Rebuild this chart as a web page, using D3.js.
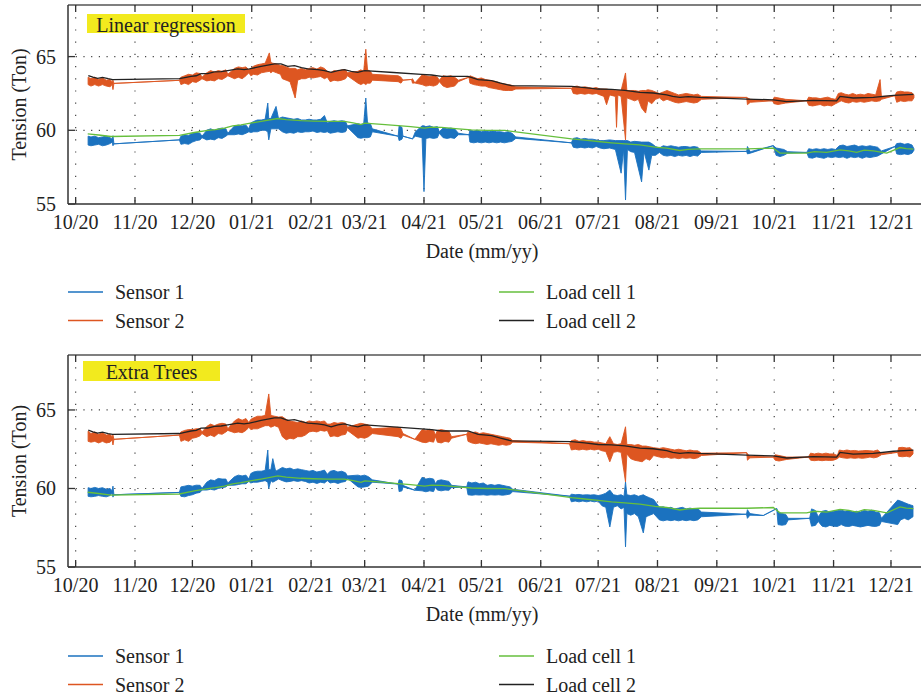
<!DOCTYPE html>
<html>
<head>
<meta charset="utf-8">
<script src="https://cdn.jsdelivr.net/npm/d3@7"></script>
<style>
  body { margin: 0; background: #fff; }
  text { font-family: "Liberation Serif", "DejaVu Serif", serif; fill: #222; }
</style>
</head>
<body>
<div id="graf"></div>
<script>
// days counted from 2020-10-01
const t0 = Date.UTC(2020, 9, 1)
const yTicks = [55, 60, 65]
const seriesNames = ["Sensor 1", "Sensor 2", "Load cell 1", "Load cell 2"]
const panelTitles = ["Linear regression", "Extra Trees"]

// load cells (reference), [day, tension]
const loadCell1 = [[6.3,59.76],[12,59.68],[18.5,59.58],[54.2,59.65],[62,59.85],[69,59.99],[73,60.05],[77.7,60.15],[82,60.3],[86.4,60.37],[92,60.5],[96.9,60.6],[105.6,60.8],[110,60.72],[117.8,60.65],[124,60.62],[131.7,60.6],[140.4,60.6],[145,60.5],[149.1,60.39],[151,60.49],[160,60.4],[168.5,60.31],[175,60.25],[182.4,60.15],[186,60.22],[191.2,60.2],[200,60.1],[206.8,60.03],[215,60.0],[224.3,59.99],[259.1,59.42],[266,59.33],[273,59.24],[280,59.15],[287,59.08],[294.8,59.01],[302.7,58.86],[308.8,58.79],[315.7,58.63],[320,58.7],[326.2,58.74],[350.6,58.74],[364.5,58.79],[368,58.45],[381.9,58.45],[386,58.55],[392.4,58.5],[399.4,58.67],[404,58.6],[408.1,58.5],[412,58.65],[416.8,58.6],[423.8,58.45],[430.7,58.83],[434,58.75],[437.7,58.72]]
const loadCell2 = [[6.6,63.71],[9,63.6],[11.5,63.52],[14,63.59],[17,63.5],[19.3,63.44],[54.2,63.5],[57,63.58],[60.3,63.66],[63,63.7],[65.5,63.84],[69,63.85],[72.5,63.96],[76,63.98],[79.5,64.05],[84.7,64.16],[88,64.12],[90.8,64.16],[96.9,64.34],[103.9,64.5],[107.3,64.5],[110.8,64.34],[114.3,64.39],[118,64.25],[121.3,64.16],[126.5,64.11],[130,64.05],[133.5,63.93],[137,64.05],[140.4,64.11],[144,64.0],[147.4,63.93],[151,64.05],[166,63.92],[180.7,63.8],[186,63.75],[191.2,63.66],[205,63.66],[210.3,63.44],[217.3,63.37],[222,63.2],[227.7,63.03],[259.1,62.98],[266,62.9],[273,62.8],[280,62.78],[287,62.71],[294.8,62.57],[301.8,62.53],[308.8,62.41],[312,62.3],[315.7,62.23],[320,62.28],[326.2,62.23],[350.6,62.12],[364.5,62.07],[371.5,61.94],[385.4,62.03],[397.6,62.0],[399.4,62.3],[406.3,62.19],[416.8,62.23],[427.3,62.37],[437.7,62.44]]

// sensors, [day, low, high] of the readings
const sensor1Lr = [[6.5,59.0,59.6],[8,58.95,59.55],[10,59.0,59.6],[12,59.05,59.5],[14,58.95,59.55],[16,59.0,59.6],[18,59.1,59.5],[19,59.2,59.4],[19.5,58.95,59.63],[20,59.08,59.08],[54.2,59.35,59.35],[55,59.05,59.6],[57,59.1,59.7],[59,59.05,59.65],[61,59.2,59.8],[63,59.3,59.85],[65,59.35,59.8],[66,59.5,59.6],[68.5,59.35,60.0],[70.5,59.4,60.1],[72.5,59.35,60.0],[74.5,59.5,60.1],[76.5,59.45,60.15],[78.5,59.6,60.1],[79.5,59.7,59.8],[83,59.7,60.3],[85,59.75,60.35],[87,59.7,60.3],[89,59.8,60.35],[90.5,59.9,60.1],[91.5,59.85,60.5],[93,59.9,60.6],[95,59.9,60.7],[97,60.0,60.7],[99,60.0,60.75],[100.4,59.9,61.85],[100.9,59.35,60.8],[102,60.1,60.8],[104.7,60.1,61.62],[106,60.1,60.8],[108,59.9,60.9],[110,59.8,60.85],[112,59.85,60.8],[114,59.8,60.75],[116,59.9,60.8],[118,59.85,60.7],[120,59.9,60.7],[122,59.9,60.75],[124,59.95,60.7],[126,59.85,60.7],[128,59.9,60.75],[130,59.85,61.0],[131.5,59.9,60.5],[133,59.8,60.6],[135,59.85,60.65],[137,59.9,60.6],[139,59.85,60.65],[141,59.9,60.6],[142,60.2,60.3],[147.5,59.5,60.45],[149,59.46,60.4],[150.5,59.5,60.45],[151.6,59.5,62.19],[152.5,59.5,60.5],[154,59.55,60.45],[155,59.9,60.1],[168.5,59.6,59.6],[169,59.3,60.3],[170.5,59.4,60.2],[171,59.6,59.6],[176,59.42,59.42],[177.5,59.6,59.9],[181,59.5,60.3],[182,55.84,60.3],[183,59.45,60.25],[185,59.5,60.3],[187,59.45,60.2],[189,59.5,60.25],[190,59.8,59.9],[192,59.5,60.15],[194,59.45,60.1],[196,59.5,60.15],[198,59.45,60.1],[200,59.7,59.8],[205.5,59.7,59.7],[206,59.2,60.0],[208,59.15,59.95],[210,59.2,60.0],[212,59.15,59.9],[214,59.2,59.95],[216,59.15,59.9],[218,59.2,59.95],[220,59.15,59.9],[222,59.2,59.9],[224,59.15,59.85],[226,59.2,59.9],[228,59.25,59.8],[230,59.45,59.55],[259,59.15,59.15],[260,58.85,59.45],[262,58.8,59.5],[264,58.85,59.4],[266,58.8,59.45],[268,58.85,59.4],[270,58.8,59.4],[272,58.9,59.35],[274,58.8,59.3],[276,58.75,59.3],[279,58.8,59.35],[282,58.7,59.3],[285,57.09,59.3],[286.3,58.7,59.3],[287.3,55.27,59.3],[288.3,58.7,59.3],[290,58.55,59.2],[292,58.5,59.25],[295.7,56.5,59.2],[297,58.55,59.2],[299.5,57.3,59.2],[301,58.3,59.1],[303,58.3,58.9],[305,58.5,58.8],[307,58.3,58.95],[309,58.25,58.9],[311,58.3,58.95],[313,58.22,58.9],[315,58.3,58.85],[317,58.25,58.9],[319,58.3,58.9],[321,58.22,58.85],[323,58.3,58.9],[325,58.25,58.85],[327,58.5,58.6],[350.6,58.57,58.57],[351,58.4,58.9],[352.5,58.45,58.55],[364.5,58.96,58.96],[366,58.3,58.8],[368,58.22,58.75],[370,58.3,58.7],[372,58.45,58.55],[382,58.5,58.5],[383,58.15,58.75],[385,58.11,58.7],[387,58.2,58.75],[389,58.15,58.7],[391,58.1,58.75],[393,58.2,58.7],[395,58.15,58.75],[397,58.2,58.7],[399,58.15,58.95],[401,58.2,59.0],[403,58.1,58.9],[405,58.2,58.95],[407,58.15,59.0],[409,58.2,58.9],[411,58.1,58.95],[413,58.2,58.9],[415,58.15,58.95],[417,58.2,58.9],[419,58.25,58.85],[421,58.4,58.6],[428,58.9,58.9],[429,58.4,59.1],[431,58.35,59.13],[433,58.4,59.05],[435,58.35,59.1],[437,58.45,59.0],[438,58.65,58.75]]

const sensor2Lr = [[6.5,63.1,63.6],[8,63.0,63.5],[10,63.1,63.6],[12,63.0,63.45],[14,63.1,63.55],[16,63.0,63.4],[18,62.95,63.45],[19,63.1,63.3],[19.5,62.76,63.4],[20,63.18,63.18],[54.2,63.39,63.39],[55,63.1,63.6],[57,63.2,63.7],[59,63.1,63.8],[61,63.3,63.75],[63,63.25,63.9],[65,63.4,63.85],[66,63.5,63.6],[68.5,63.35,63.9],[70.5,63.4,64.05],[72.5,63.35,63.95],[74.5,63.5,64.05],[76.5,63.45,64.0],[78.5,63.6,64.1],[79.5,63.7,63.8],[83,63.5,64.2],[85,63.6,64.3],[87,63.5,64.25],[89,63.7,64.3],[90.5,63.9,64.1],[91.5,63.7,64.2],[93,63.8,64.35],[95,63.75,64.45],[97,63.9,64.5],[99,63.95,64.55],[101.2,64.0,65.25],[102,63.9,64.6],[103,64.0,64.55],[105,63.9,64.5],[107,63.8,64.4],[108,63.5,64.4],[110,63.4,64.3],[112,63.3,64.2],[114.7,62.19,64.2],[116,63.4,64.1],[118,63.5,64.2],[120,63.5,64.1],[122,63.6,64.2],[124,63.55,64.25],[126,63.6,64.15],[128,63.65,64.3],[130,63.5,64.2],[131.5,63.6,64.0],[133,63.3,63.9],[135,63.4,64.05],[137,63.35,64.0],[139,63.4,64.1],[141,63.5,64.1],[142,63.7,63.9],[147.5,63.2,64.0],[149,63.1,64.1],[150.5,63.2,64.0],[151.6,63.1,65.5],[152.5,63.2,64.1],[154,63.2,64.0],[155,63.4,63.8],[168.5,63.3,63.7],[170,63.2,63.6],[171,63.4,63.4],[175.5,63.45,63.45],[176,63.2,63.5],[177.2,63.21,63.21],[181,63.1,63.75],[183,63.0,63.7],[185,63.05,63.65],[187,63.0,63.7],[189,63.1,63.6],[190,63.3,63.4],[192,63.0,63.7],[194,62.9,63.65],[196,62.95,63.7],[198,63.0,63.6],[200,63.3,63.4],[205.5,63.6,63.6],[206,63.2,63.7],[208,63.1,63.6],[210,63.05,63.5],[212,63.0,63.55],[214,63.0,63.45],[216,62.9,63.4],[218,62.85,63.35],[220,62.8,63.3],[222,62.75,63.2],[224,62.7,63.15],[226,62.7,63.1],[228,62.7,63.05],[230,62.8,62.95],[259,62.85,62.85],[260,62.5,62.95],[262,62.45,63.0],[264,62.5,62.9],[266,62.45,62.95],[268,62.5,62.9],[270,62.45,62.85],[272,62.5,62.9],[274,62.4,62.8],[276,62.3,62.8],[277.4,61.74,62.8],[279,62.4,62.75],[282,62.3,62.7],[282.6,60.2,62.7],[283.3,62.4,62.7],[285,62.3,62.7],[287.3,59.35,63.89],[288,62.2,62.7],[290,62.1,62.7],[292,62.0,62.7],[294,62.1,62.65],[295.7,61.51,62.7],[297.8,61.17,62.7],[299,62.0,62.75],[301,61.8,62.7],[303,62.1,62.6],[305,62.2,62.5],[307,62.0,62.6],[309,62.1,62.7],[311,62.0,62.6],[313,61.9,62.5],[315,61.85,62.4],[317,61.9,62.45],[319,61.95,62.5],[321,61.9,62.45],[323,61.85,62.4],[325,61.9,62.45],[327,62.1,62.3],[350.6,62.23,62.23],[351,61.74,62.2],[352.5,61.9,62.1],[364,62.0,62.0],[365,61.8,62.25],[367,61.75,62.2],[369,61.8,62.15],[371,61.85,62.1],[382,62.0,62.0],[383,61.7,62.25],[385,61.65,62.2],[387,61.7,62.2],[389,61.75,62.15],[391,61.65,62.2],[393,61.7,62.25],[395,61.65,62.15],[397,61.8,62.1],[398.5,61.9,62.5],[400,62.0,62.55],[402,61.9,62.45],[404,61.85,62.4],[406,61.95,62.5],[408,61.9,62.4],[410,61.95,62.45],[412,61.9,62.4],[414,61.95,62.5],[416,62.0,62.45],[418,61.95,62.4],[420.3,62.0,63.44],[421,62.1,62.3],[428,62.35,62.35],[429,61.9,62.6],[431,62.0,62.65],[433,61.95,62.6],[435,62.0,62.6],[437,62.0,62.55],[438,62.2,62.4]]

const sensor1Et = [[6.5,59.5,60.05],[8,59.47,60.0],[10,59.5,60.07],[12,59.55,60.0],[14,59.5,60.05],[16,59.47,59.95],[18,59.55,60.0],[19,59.7,59.85],[19.5,59.45,60.15],[20,59.6,59.6],[54.2,59.75,59.75],[55,59.5,60.1],[57,59.47,60.15],[59,59.55,60.2],[61,59.6,60.15],[63,59.7,60.21],[65,59.75,60.2],[66,59.9,60.0],[68.5,59.9,60.4],[70.5,59.95,60.55],[72.5,59.9,60.5],[74.5,60.0,60.64],[76.5,60.05,60.6],[78.5,60.1,60.6],[79.5,60.2,60.35],[83,60.21,60.75],[85,60.25,60.85],[87,60.3,60.8],[89,60.3,60.85],[90.5,60.45,60.6],[91.5,60.35,60.95],[93,60.4,61.05],[95,60.4,61.1],[97,60.45,61.1],[99,60.5,61.15],[100.4,60.4,62.45],[100.9,60.0,61.2],[102,60.5,61.2],[103,60.4,61.9],[104.5,60.5,61.1],[106,60.6,61.2],[108,60.5,61.34],[110,60.42,61.25],[112,60.45,61.3],[114,60.5,61.2],[116,60.45,61.25],[118,60.5,61.2],[120,60.45,61.15],[122,60.35,61.1],[124,60.4,61.15],[126,60.32,61.05],[128,60.4,61.1],[130,60.35,61.17],[131.5,60.5,60.9],[133,60.35,61.1],[135,60.4,61.15],[137,60.32,61.05],[139,60.4,61.1],[141,60.45,61.0],[142,60.65,60.8],[147.5,60.1,60.85],[149,60.07,60.8],[151,60.1,60.85],[153,60.15,60.75],[155,60.4,60.55],[168.5,60.28,60.28],[169,59.8,60.55],[170.5,59.85,60.5],[171,60.1,60.2],[177.2,59.89,59.89],[181,59.85,60.71],[183,59.79,60.6],[185,59.85,60.65],[187,59.8,60.6],[188,60.1,60.3],[189,59.9,60.5],[191,59.85,60.55],[193,59.9,60.5],[195,59.88,60.45],[196.4,60.05,60.2],[204.3,60.1,60.1],[205,59.6,60.42],[207,59.57,60.35],[209,59.6,60.4],[211,59.58,60.3],[213,59.6,60.35],[215,59.57,60.2],[217,59.6,60.25],[219,59.58,60.2],[221,59.6,60.25],[223,59.57,60.2],[225,59.6,60.15],[227,59.65,60.1],[228.4,59.8,59.95],[258,59.51,59.51],[259,59.15,59.64],[261,59.2,59.6],[263,59.15,59.62],[265,59.2,59.58],[267,59.15,59.6],[269,59.2,59.58],[271,59.15,59.6],[273,59.2,59.55],[275,58.9,59.6],[277,58.8,59.7],[279.1,57.55,59.9],[281,58.8,59.6],[283,58.9,59.55],[285,58.7,59.6],[286.5,58.8,59.5],[287.3,56.28,60.42],[288,58.4,59.6],[290,58.3,59.55],[292,58.4,59.6],[294,58.2,59.5],[296.6,57.17,59.6],[298,58.2,59.5],[300,58.3,59.4],[302,58.4,59.3],[305,58.0,58.8],[307,57.94,58.83],[309,58.0,58.75],[311,57.95,58.8],[313,58.0,58.7],[315,57.94,58.75],[317,58.0,58.8],[319,57.95,58.7],[321,58.0,58.75],[323,57.95,58.7],[325,58.0,58.72],[327,58.2,58.5],[350.5,58.36,58.36],[351,58.1,58.65],[352.3,58.3,58.4],[359.3,58.28,58.28],[366.3,58.72,58.72],[367,57.7,58.5],[369,57.66,58.4],[371,57.7,58.35],[372.3,58.0,58.1],[383.5,58.1,58.1],[384.5,57.6,58.7],[386.5,57.65,58.6],[388,57.9,58.2],[390,57.6,58.55],[392,57.55,58.6],[394,57.65,58.5],[396,57.6,58.55],[398,57.58,58.6],[400,57.7,58.62],[402,57.6,58.55],[404,57.58,58.6],[406,57.65,58.5],[408,57.6,58.55],[410,57.55,58.5],[412,57.6,58.6],[414,57.65,58.55],[416,57.6,58.62],[418,57.58,58.5],[420,57.65,58.45],[421,57.9,58.1],[429.5,57.7,59.26],[431,58.0,59.2],[433,58.1,59.1],[435,58.0,59.0],[437.5,58.2,58.9]]

const sensor2Et = [[6.5,63.0,63.65],[8,62.95,63.5],[10,63.0,63.6],[12,62.9,63.45],[14,63.0,63.55],[16,62.9,63.4],[18,62.95,63.45],[19,63.1,63.3],[19.5,62.77,63.4],[20,63.13,63.13],[54.2,63.4,63.4],[55,63.0,63.6],[57,63.1,63.7],[59,63.0,63.75],[61,63.2,63.75],[63,63.25,63.8],[65,63.35,63.8],[66,63.5,63.6],[68.5,63.3,63.95],[70.5,63.4,64.1],[72.5,63.3,64.0],[74.5,63.5,64.1],[76.5,63.45,64.15],[78.5,63.6,64.1],[79.5,63.7,63.8],[83,63.55,64.3],[85,63.6,64.45],[87,63.55,64.35],[89,63.7,64.45],[90.5,63.9,64.2],[91.5,63.75,64.4],[93,63.8,64.5],[95,63.8,64.6],[97,63.9,64.6],[99,64.0,64.65],[100.9,64.0,66.02],[102,63.9,64.65],[104,64.0,64.6],[106,63.9,64.55],[108,63.3,64.57],[110,63.1,64.4],[112,63.2,64.3],[114,63.15,64.25],[116,63.3,64.2],[118,63.3,64.3],[120,63.4,64.2],[122,63.6,64.3],[124,63.65,64.25],[126,63.6,64.3],[128,63.7,64.25],[130,63.65,64.3],[131.5,63.7,64.1],[133,63.3,64.1],[135,63.35,64.2],[137,63.3,64.15],[139,63.4,64.2],[141,63.45,64.15],[142,63.7,63.9],[147.5,63.2,64.1],[149,63.25,64.15],[151,63.2,64.1],[153,63.3,64.05],[155,63.5,63.8],[168.5,63.3,63.9],[170,63.2,63.8],[171,63.4,63.5],[177.2,63.13,63.13],[181,62.95,63.75],[183,62.92,63.7],[185,63.0,63.77],[187,62.95,63.7],[188,63.3,63.4],[189,62.95,63.7],[191,62.9,63.75],[193,63.0,63.7],[195,62.95,63.65],[196.4,63.2,63.3],[204.3,63.45,63.45],[205,63.0,63.6],[207,62.9,63.55],[209,62.85,63.6],[211,62.9,63.5],[213,62.85,63.55],[215,62.8,63.5],[217,62.85,63.45],[219,62.8,63.4],[221,62.75,63.35],[223,62.8,63.3],[225,62.75,63.25],[227,62.8,63.2],[228.4,62.95,63.05],[258,62.85,62.85],[259,62.45,63.05],[261,62.5,63.1],[263,62.45,63.0],[265,62.5,63.05],[267,62.45,63.0],[269,62.5,63.0],[271,62.45,62.95],[273,62.5,62.95],[275,62.4,62.9],[277,62.35,62.85],[279.1,61.7,63.3],[281,62.3,62.85],[283,62.35,62.8],[285,62.3,62.85],[287.3,60.42,63.93],[288,62.2,62.8],[290,61.9,62.8],[292,61.8,62.75],[294,61.75,62.8],[296,61.7,62.7],[298,61.9,62.7],[300,61.8,62.65],[302,62.1,62.6],[305,62.0,62.55],[307,61.95,62.6],[309,62.0,62.55],[311,61.92,62.5],[313,61.95,62.45],[315,61.9,62.5],[317,61.95,62.45],[319,61.92,62.4],[321,61.95,62.45],[323,61.9,62.4],[325,61.95,62.4],[327,62.1,62.25],[350.6,62.28,62.28],[351,61.8,62.2],[352.3,61.95,62.05],[364.4,62.0,62.0],[365.5,61.8,62.15],[367.5,61.75,62.1],[369.5,61.8,62.05],[371.5,61.85,62.0],[382.8,62.0,62.0],[384,61.8,62.25],[386,61.77,62.2],[388,61.8,62.25],[390,61.77,62.2],[392,61.8,62.25],[394,61.78,62.2],[396,61.8,62.2],[398,61.9,62.1],[399,62.0,62.45],[401,61.95,62.4],[403,61.92,62.45],[405,61.95,62.4],[407,61.92,62.42],[409,61.95,62.38],[411,61.92,62.4],[413,61.95,62.42],[415,62.0,62.4],[417,61.95,62.38],[419,62.0,62.45],[421,62.15,62.25],[429.5,62.3,62.3],[430,62.05,62.6],[432,62.02,62.62],[434,62.05,62.58],[436,62.0,62.6],[437.5,62.2,62.4]]

const colors = { s1: "#1b72bf", s2: "#dd5621", lc1: "#66bf3c", lc2: "#222222" }

const W = 921, H = 697
const svg = d3.select("#graf").append("svg").attr("width", W).attr("height", H)
svg.append("rect").attr("width", W).attr("height", H).attr("fill", "#fff")

const dayToDate = (d) => new Date(t0 + d * 864e5)

const x = d3.scaleUtc()
  .domain([new Date(Date.UTC(2020, 8, 27)), new Date(Date.UTC(2021, 11, 24))])
  .range([68, 935])
const months = d3.utcMonth.range(new Date(Date.UTC(2020, 9, 1)), new Date(Date.UTC(2021, 11, 2)))

const panels = [
  { title: panelTitles[0], top: 5, bottom: 204, s1: sensor1Lr, s2: sensor2Lr, box: [87, 14, 158, 19], legendY: 292 },
  { title: panelTitles[1], top: 355, bottom: 567, s1: sensor1Et, s2: sensor2Et, box: [83, 361, 137, 20], legendY: 656 },
]

panels.forEach((p) => {
  const y = d3.scaleLinear().domain([55, 68.5]).range([p.bottom, p.top])
  const g = svg.append("g")

  // grid
  g.selectAll(".vgrid").data(months).enter().append("line")
    .attr("x1", (d) => x(d)).attr("x2", (d) => x(d))
    .attr("y1", p.top).attr("y2", p.bottom)
    .attr("stroke", "#444").attr("stroke-width", 1.2)
    .attr("stroke-dasharray", "1.2,11")
  g.selectAll(".hgrid").data([60, 65]).enter().append("line")
    .attr("x1", 68).attr("x2", W)
    .attr("y1", (d) => y(d)).attr("y2", (d) => y(d))
    .attr("stroke", "#444").attr("stroke-width", 1.2)
    .attr("stroke-dasharray", "1.2,6.5")

  // sensors as bands of readings
  const band = d3.area()
    .x((d) => x(dayToDate(d[0])))
    .y0((d) => y(d[1]))
    .y1((d) => y(d[2]))
  const line = d3.line()
    .x((d) => x(dayToDate(d[0])))
    .y((d) => y(d[1]))

  ;[[p.s1, colors.s1], [p.s2, colors.s2]].forEach(([data, c]) => {
    g.append("path").datum(data).attr("d", band)
      .attr("fill", c).attr("stroke", c).attr("stroke-width", 0.9)
      .attr("stroke-linejoin", "round")
  })
  ;[[loadCell1, colors.lc1], [loadCell2, colors.lc2]].forEach(([data, c]) => {
    g.append("path").datum(data).attr("d", line)
      .attr("fill", "none").attr("stroke", c).attr("stroke-width", 1.3)
  })

  // frame
  g.append("line").attr("x1", 68).attr("x2", W).attr("y1", p.top).attr("y2", p.top)
    .attr("stroke", "#555").attr("stroke-width", 1.6)
  g.append("line").attr("x1", 68).attr("x2", W).attr("y1", p.bottom).attr("y2", p.bottom)
    .attr("stroke", "#333").attr("stroke-width", 1.5)
  g.append("line").attr("x1", 68).attr("x2", 68).attr("y1", p.top).attr("y2", p.bottom)
    .attr("stroke", "#333").attr("stroke-width", 1.5)

  // ticks (inward)
  months.forEach((m) => {
    g.append("line").attr("x1", x(m)).attr("x2", x(m))
      .attr("y1", p.bottom).attr("y2", p.bottom - 7).attr("stroke", "#333").attr("stroke-width", 1.3)
    g.append("line").attr("x1", x(m)).attr("x2", x(m))
      .attr("y1", p.top).attr("y2", p.top + 7).attr("stroke", "#333").attr("stroke-width", 1.3)
  })
  yTicks.forEach((v) => {
    g.append("line").attr("x1", 68).attr("x2", 75)
      .attr("y1", y(v)).attr("y2", y(v)).attr("stroke", "#333").attr("stroke-width", 1.3)
  })

  g.selectAll(".xlab").data(months).enter().append("text")
    .attr("x", (d) => x(d)).attr("y", p.bottom + 18)
    .attr("text-anchor", "middle").attr("dominant-baseline", "central")
    .attr("font-size", 20).text(d3.utcFormat("%m/%y"))
  g.selectAll(".ylab").data(yTicks).enter().append("text")
    .attr("x", 56).attr("y", (d) => y(d))
    .attr("text-anchor", "end").attr("dominant-baseline", "central")
    .attr("font-size", 20).text((d) => d)

  g.append("text")
    .attr("transform", `translate(19,${(p.top + p.bottom) / 2}) rotate(-90)`)
    .attr("text-anchor", "middle").attr("dominant-baseline", "central")
    .attr("font-size", 20).text("Tension (Ton)")
  g.append("text")
    .attr("x", 482).attr("y", p.bottom + 47)
    .attr("text-anchor", "middle").attr("dominant-baseline", "central")
    .attr("font-size", 20).text("Date (mm/yy)")

  // title box
  const [bx, by, bw, bh] = p.box
  g.append("rect").attr("x", bx).attr("y", by).attr("width", bw).attr("height", bh).attr("fill", "#f2ea1e")
  g.append("text").attr("x", bx + bw / 2).attr("y", by + bh / 2 + 1)
    .attr("text-anchor", "middle").attr("dominant-baseline", "central")
    .attr("font-size", 20).text(p.title)

  // legend
  const legendItems = [
    { name: seriesNames[0], c: colors.s1, lx: 68, row: 0 },
    { name: seriesNames[1], c: colors.s2, lx: 68, row: 1 },
    { name: seriesNames[2], c: colors.lc1, lx: 499, row: 0 },
    { name: seriesNames[3], c: colors.lc2, lx: 499, row: 1 },
  ]
  legendItems.forEach((it) => {
    const ly = p.legendY + it.row * 28.5
    g.append("line").attr("x1", it.lx).attr("x2", it.lx + 35).attr("y1", ly).attr("y2", ly)
      .attr("stroke", it.c).attr("stroke-width", 1.6)
    g.append("text").attr("x", it.lx + 47).attr("y", ly)
      .attr("dominant-baseline", "central").attr("font-size", 20).text(it.name)
  })
})
</script>
</body>
</html>
